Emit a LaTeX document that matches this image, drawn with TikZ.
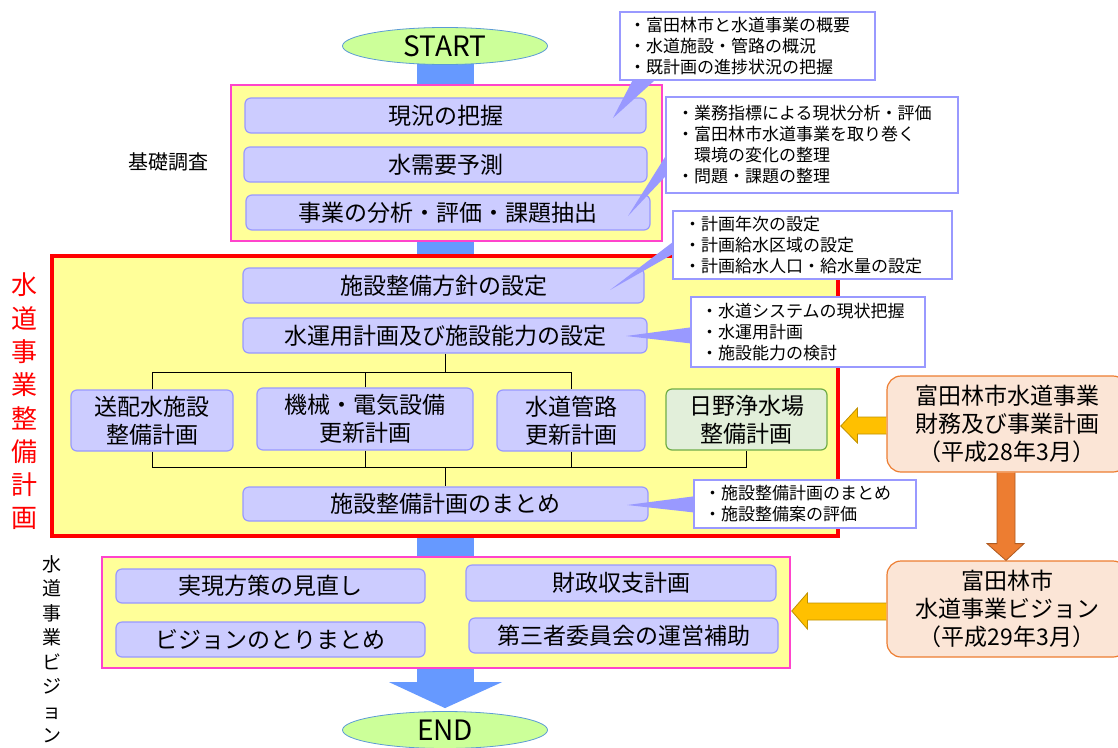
\documentclass[tikz,border=0pt]{standalone}
\usepackage{fontspec}
\setmainfont{Noto Sans CJK JP}
\usetikzlibrary{shapes.geometric,calc,backgrounds}
\definecolor{boxfill}{HTML}{CCCCFF}
\definecolor{boxline}{HTML}{9999FF}
\definecolor{yel}{HTML}{FFFF99}
\definecolor{mag}{HTML}{FF44CC}
\definecolor{bluebar}{HTML}{6699FF}
\definecolor{startfill}{HTML}{CCFF99}
\definecolor{startline}{HTML}{5B9BD5}
\definecolor{grfill}{HTML}{E2EFDA}
\definecolor{grline}{HTML}{70AD47}
\definecolor{orfill}{HTML}{FBE5D6}
\definecolor{orline}{HTML}{ED7D31}
\definecolor{gold}{HTML}{FFC000}
\definecolor{goldline}{HTML}{BF9000}
\definecolor{orarrowline}{HTML}{AE5A21}
\begin{document}
\begin{tikzpicture}[x=1pt,y=-1pt,
  stepbox/.style={draw=boxline, fill=boxfill, line width=1.2pt, rounded corners=6pt,
    inner sep=0pt, font=\fontsize{23}{28}\selectfont, align=center},
  greenbox/.style={stepbox, draw=grline, fill=grfill},
  srcbox/.style={draw=orline, fill=orfill, line width=1.2pt, rounded corners=14pt,
    inner sep=0pt, font=\fontsize{23}{28}\selectfont, align=center},
  groupbox/.style={draw=mag, fill=yel, line width=1.5pt, inner sep=0pt},
  redbox/.style={draw=red, fill=yel, line width=3.5pt, inner sep=0pt},
  term/.style={ellipse, draw=startline, fill=startfill, line width=0.8pt,
    minimum width=205pt, minimum height=37pt, inner sep=0pt, font=\fontsize{28}{30}\selectfont},
  callout/.style={draw=boxline, fill=white, line width=1.2pt, inner sep=0pt,
    font=\fontsize{17}{21}\selectfont, align=left},
  ptr/.style={fill=boxline},
  tree/.style={draw=black, line width=1pt},
  bigarrow/.style={fill=gold, draw=goldline, line width=0.8pt},
  downarrow/.style={fill=orline, draw=orarrowline, line width=0.8pt},
  sidelabel/.style={align=center, inner sep=0pt}
]
\useasboundingbox (0,0) rectangle (1118,747);

% terminals
\node[term] (start) at (445,46) {START};
\node[term] (endn) at (445,730) {END};

% main flow bar (behind everything)
\begin{scope}[on background layer]
\fill[bluebar] ($(start.center)+(-28,0)$) rectangle ($(endn.north)+(29,-29)$);
\fill[bluebar] ($(endn.north)+(-56,-29)$) -- ($(endn.north)+(57,-29)$) -- ($(endn.north)+(0,-3)$) -- cycle;
\end{scope}

% group boxes
\node[groupbox, minimum width=431pt, minimum height=156pt] (g1) at (446.5,163) {};
\node[redbox, minimum width=786pt, minimum height=280pt] (g2) at (445,396) {};
\node[groupbox, minimum width=688pt, minimum height=111pt] (g3) at (446,612.5) {};

% basic survey
\node[stepbox, minimum width=401pt, minimum height=35pt] (b1) at (445.5,115.5) {現況の把握};
\node[stepbox, minimum width=403pt, minimum height=35pt] (b2) at (445.5,164.5) {水需要予測};
\node[stepbox, minimum width=404pt, minimum height=35pt] (b3) at (448,212.5) {事業の分析・評価・課題抽出};

% facility plan
\node[stepbox, minimum width=401pt, minimum height=35pt] (d1) at (443.5,285.5) {施設整備方針の設定};
\node[stepbox, minimum width=404pt, minimum height=35pt] (d2) at (445,335.5) {水運用計画及び施設能力の設定};
\node[stepbox, minimum width=162pt, minimum height=61pt] (t1) at (152,420.5) {送配水施設\\整備計画};
\node[stepbox, minimum width=216pt, minimum height=62pt] (t2) at (365,419) {機械・電気設備\\更新計画};
\node[stepbox, minimum width=148pt, minimum height=61pt] (t3) at (571,420.5) {水道管路\\更新計画};
\node[greenbox, minimum width=161pt, minimum height=61pt] (t4) at (746.5,419.5) {日野浄水場\\整備計画};
\node[stepbox, minimum width=405pt, minimum height=34pt] (d3) at (445.5,504) {施設整備計画のまとめ};

% tree connectors
\coordinate (tj) at ($(d2.south)+(0,19)$);
\coordinate (bj) at ($(d3.north)+(0,-19)$);
\draw[tree] (d2.south) -- (tj);
\draw[tree] (t1.north) -- (t1.north |- tj) -- (t3.north |- tj) -- (t3.north);
\draw[tree] (t2.north) -- (t2.north |- tj);
\draw[tree] (t1.south) -- (t1.south |- bj) -- (t4.south |- bj) -- (t4.south);
\draw[tree] (t2.south) -- (t2.south |- bj);
\draw[tree] (t3.south) -- (t3.south |- bj);
\draw[tree] (bj) -- (d3.north);

% vision
\node[stepbox, minimum width=309pt, minimum height=34pt] (v1) at (270.5,586) {実現方策の見直し};
\node[stepbox, minimum width=310pt, minimum height=36pt] (v2) at (621,583) {財政収支計画};
\node[stepbox, minimum width=309pt, minimum height=35pt] (v3) at (270.5,639.5) {ビジョンのとりまとめ};
\node[stepbox, minimum width=309pt, minimum height=35pt] (v4) at (623.5,635.5) {第三者委員会の運営補助};

% callouts
\node[callout, minimum width=255pt, minimum height=68pt, text width=237pt] (c1) at (747.5,46)
  {・富田林市と水道事業の概要\\・水道施設・管路の概況\\・既計画の進捗状況の把握};
\node[callout, minimum width=292pt, minimum height=96pt, text width=270pt] (c2) at (812,145)
  {・業務指標による現状分析・評価\\・富田林市水道事業を取り巻く\\\hspace*{1em}環境の変化の整理\\・問題・課題の整理};
\node[callout, minimum width=279pt, minimum height=68pt, text width=257pt] (c3) at (812.5,245)
  {・計画年次の設定\\・計画給水区域の設定\\・計画給水人口・給水量の設定};
\node[callout, minimum width=234pt, minimum height=70pt, text width=214pt] (c4) at (808,332)
  {・水道システムの現状把握\\・水運用計画\\・施設能力の検討};
\node[callout, minimum width=222pt, minimum height=48pt, text width=202pt] (c5) at (805,504)
  {・施設整備計画のまとめ\\・施設整備案の評価};

% callout pointers
\coordinate (p1) at (613,118);
\coordinate (p2) at (628,216);
\coordinate (p3) at (610,290);
\coordinate (p4) at (626,336);
\coordinate (p5) at (627,505);
\fill[ptr] ($(c1.south west)+(13,0)$) -- (p1) -- ($(c1.south west)+(35,0)$) -- cycle;
\fill[ptr] ($(c2.north west)+(0,60)$) -- (p2) -- ($(c2.north west)+(0,80)$) -- cycle;
\fill[ptr] ($(c3.north west)+(0,32)$) -- (p3) -- ($(c3.north west)+(0,44)$) -- cycle;
\fill[ptr] ($(c4.north west)+(0,31)$) -- (p4) -- ($(c4.north west)+(0,47)$) -- cycle;
\fill[ptr] ($(c5.north west)+(0,17)$) -- (p5) -- ($(c5.north west)+(0,33)$) -- cycle;

% source boxes
\node[srcbox, minimum width=240pt, minimum height=96pt] (s1) at (1007,424)
  {富田林市水道事業\\財務及び事業計画\\（平成28年3月）};
\node[srcbox, minimum width=240pt, minimum height=96pt] (s2) at (1007,609)
  {富田林市\\水道事業ビジョン\\（平成29年3月）};

% arrows from sources
\coordinate (a1) at (s1.west);
\draw[bigarrow] ($(a1)+(0,-7)$) -- ($(a1)+(-29,-7)$) -- ($(a1)+(-29,-16)$) -- ($(g2.east)+(1,30)$)
  -- ($(a1)+(-29,19)$) -- ($(a1)+(-29,10)$) -- ($(a1)+(0,10)$);
\coordinate (a2) at (s2.west);
\draw[bigarrow] ($(a2)+(0,-6)$) -- ($(a2)+(-79,-6)$) -- ($(a2)+(-79,-16)$) -- ($(g3.east)+(1,-1.5)$)
  -- ($(a2)+(-79,20)$) -- ($(a2)+(-79,11)$) -- ($(a2)+(0,11)$);
\draw[downarrow] ($(s1.south)+(-10,0)$) -- ($(s1.south)+(-10,71)$) -- ($(s1.south)+(-20,71)$)
  -- ($(s2.north)+(-1,0)$) -- ($(s1.south)+(17,71)$) -- ($(s1.south)+(8,71)$) -- ($(s1.south)+(8,0)$);

% side labels
\node[sidelabel, font=\fontsize{20}{24}\selectfont] (lab1) at (168,162) {基礎調査};
\node[sidelabel, text=red, font=\fontsize{26}{33.3}\selectfont] (lab2) at (25,401.5)
  {水\\道\\事\\業\\整\\備\\計\\画};
\node[sidelabel, font=\fontsize{19}{24.5}\selectfont] (lab3) at (52,649)
  {水\\道\\事\\業\\ビ\\ジ\\ョ\\ン};
\end{tikzpicture}
\end{document}
